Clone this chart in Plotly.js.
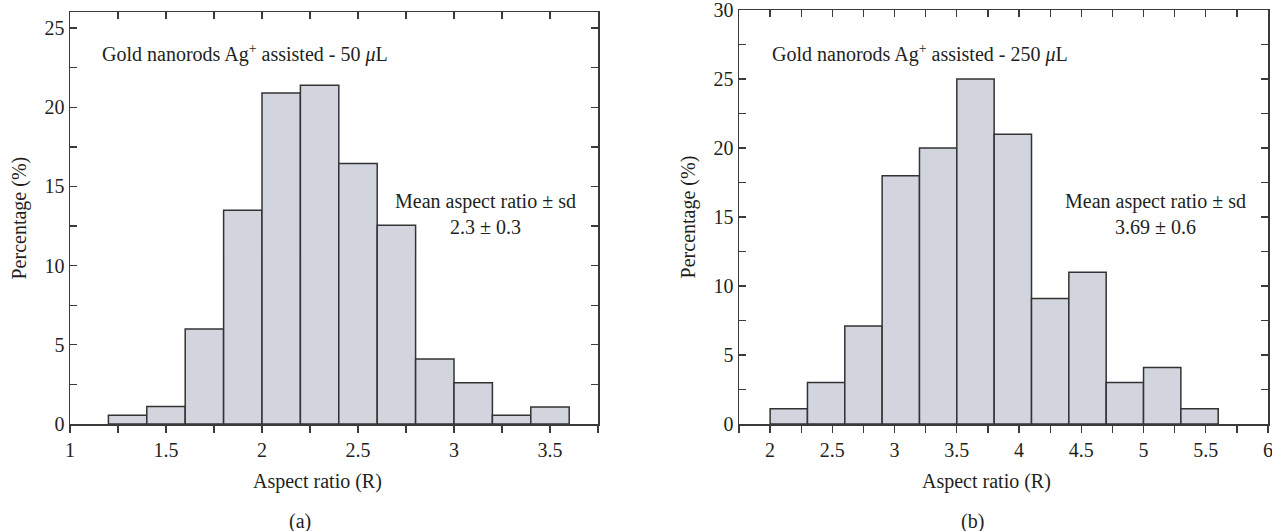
<!DOCTYPE html>
<html>
<head>
<meta charset="utf-8">
<script src="https://cdn.plot.ly/plotly-3.0.1.min.js"></script>
<style>html,body{margin:0;padding:0;background:#fff;} #chart{width:1272px;height:531px;}</style>
</head>
<body>
<div id="chart"></div>
<script>
// Panel (a): 50 uL
const binStartA = [1.2, 1.4, 1.6, 1.8, 2.0, 2.2, 2.4, 2.6, 2.8, 3.0, 3.2, 3.4];
const binWidthA = 0.2;
const percentA = [0.55, 1.1, 6.0, 13.5, 20.9, 21.4, 16.45, 12.55, 4.1, 2.6, 0.55, 1.07];
// Panel (b): 250 uL
const binStartB = [2.0, 2.3, 2.6, 2.9, 3.2, 3.5, 3.8, 4.1, 4.4, 4.7, 5.0, 5.3];
const binWidthB = 0.3;
const percentB = [1.1, 3.0, 7.1, 18.0, 20.0, 25.0, 21.0, 9.1, 11.0, 3.0, 4.1, 1.1];

const titleA = 'Gold nanorods Ag<sup>+</sup> assisted - 50 <i>μ</i>L';
const titleB = 'Gold nanorods Ag<sup>+</sup> assisted - 250 <i>μ</i>L';
const meanA = 'Mean aspect ratio ± sd<br>2.3 ± 0.3';
const meanB = 'Mean aspect ratio ± sd<br>3.69 ± 0.6';
const xTitle = 'Aspect ratio (R)';
const yTitle = 'Percentage (%)';

const W = 1272, H = 531;
const FONT = 'Liberation Serif, Times New Roman, serif';
const FS = 20;
const TXT = '#231f20';
const LINE = '#3a3a3a';
const fx = px => px / W;
const fy = py => 1 - py / H;

const barStyle = {color: '#d2d5dd', line: {color: '#333333', width: 1.5}};

const traces = [
  {type: 'bar', x: binStartA, y: percentA, width: binWidthA, offset: 0,
   marker: barStyle, xaxis: 'x', yaxis: 'y', showlegend: false, hoverinfo: 'x+y'},
  {type: 'bar', x: binStartB, y: percentB, width: binWidthB, offset: 0,
   marker: barStyle, xaxis: 'x2', yaxis: 'y2', showlegend: false, hoverinfo: 'x+y'},
  // empty traces so that the top frame axes are drawn
  {type: 'scatter', x: [], y: [], xaxis: 'x3', yaxis: 'y', showlegend: false, hoverinfo: 'skip'},
  {type: 'scatter', x: [], y: [], xaxis: 'x4', yaxis: 'y2', showlegend: false, hoverinfo: 'skip'}
];

const tickFont = {family: FONT, size: FS, color: TXT};

function xAxis(domain, range, anchor) {
  return {domain: domain, range: range, anchor: anchor, showgrid: false, zeroline: false,
    showline: true, linecolor: LINE, linewidth: 1.5, mirror: false,
    ticks: 'outside', ticklen: 7, tickwidth: 1.3, tickcolor: LINE, dtick: 0.5, tick0: 0,
    minor: {dtick: 0.25, tick0: 0, ticks: 'outside', ticklen: 7, tickwidth: 1.3, tickcolor: LINE, showgrid: false},
    tickfont: tickFont, ticklabeloverflow: 'allow', automargin: false, fixedrange: true};
}
function xTop(domain, range, anchor, over) {
  return {domain: domain, range: range, anchor: anchor, overlaying: over, side: 'top',
    showgrid: false, zeroline: false, showline: true, linecolor: LINE, linewidth: 1.5,
    ticks: 'inside', ticklen: 7, tickwidth: 1.3, tickcolor: LINE, dtick: 0.5, tick0: 0,
    minor: {dtick: 0.25, tick0: 0, ticks: 'inside', ticklen: 7, tickwidth: 1.3, tickcolor: LINE, showgrid: false},
    showticklabels: false, automargin: false, fixedrange: true};
}
function yAxis(domain, range, anchor) {
  return {domain: domain, range: range, anchor: anchor, showgrid: false, zeroline: false,
    showline: true, linecolor: LINE, linewidth: 1.5, mirror: 'ticks',
    ticks: 'inside', ticklen: 7, tickwidth: 1.3, tickcolor: LINE, dtick: 5, tick0: 0,
    minor: {dtick: 2.5, tick0: 0, ticks: 'inside', ticklen: 7, tickwidth: 1.3, tickcolor: LINE, showgrid: false},
    tickfont: tickFont, ticklabeloverflow: 'allow', automargin: false, fixedrange: true,
    title: {text: yTitle, font: {family: FONT, size: FS, color: TXT}, standoff: 12}};
}

const layout = {
  width: W, height: H,
  margin: {l: 0, r: 0, t: 0, b: 0},
  paper_bgcolor: '#ffffff', plot_bgcolor: '#ffffff',
  font: {family: FONT, color: TXT, size: FS},
  bargap: 0,
  xaxis: xAxis([fx(70), fx(598)], [1, 3.75], 'y'),
  yaxis: yAxis([fy(424), fy(12.3)], [0, 26], 'x'),
  xaxis2: xAxis([fx(739), fx(1268)], [1.75, 6], 'y2'),
  yaxis2: yAxis([fy(424), fy(10.1)], [0, 30], 'x2'),
  xaxis3: xTop([fx(70), fx(598)], [1, 3.75], 'y', 'x'),
  xaxis4: xTop([fx(739), fx(1268)], [1.75, 6], 'y2', 'x2'),
  annotations: [
    {text: titleA, xref: 'paper', yref: 'paper', x: fx(100), y: fy(53), xanchor: 'left', yanchor: 'middle', showarrow: false, font: {family: FONT, size: FS, color: TXT}},
    {text: titleB, xref: 'paper', yref: 'paper', x: fx(770), y: fy(53), xanchor: 'left', yanchor: 'middle', showarrow: false, font: {family: FONT, size: FS, color: TXT}},
    {text: meanA, xref: 'paper', yref: 'paper', x: fx(485), y: fy(214), xanchor: 'center', yanchor: 'middle', align: 'center', showarrow: false, font: {family: FONT, size: FS, color: TXT}},
    {text: meanB, xref: 'paper', yref: 'paper', x: fx(1155), y: fy(214), xanchor: 'center', yanchor: 'middle', align: 'center', showarrow: false, font: {family: FONT, size: FS, color: TXT}},
    {text: xTitle, xref: 'paper', yref: 'paper', x: fx(317), y: fy(481), xanchor: 'center', yanchor: 'middle', showarrow: false, font: {family: FONT, size: FS, color: TXT}},
    {text: xTitle, xref: 'paper', yref: 'paper', x: fx(986), y: fy(481), xanchor: 'center', yanchor: 'middle', showarrow: false, font: {family: FONT, size: FS, color: TXT}},
    {text: '(a)', xref: 'paper', yref: 'paper', x: fx(300), y: fy(521), xanchor: 'center', yanchor: 'middle', showarrow: false, font: {family: FONT, size: FS, color: TXT}},
    {text: '(b)', xref: 'paper', yref: 'paper', x: fx(972), y: fy(521), xanchor: 'center', yanchor: 'middle', showarrow: false, font: {family: FONT, size: FS, color: TXT}}
  ]
};

Plotly.newPlot('chart', traces, layout, {displayModeBar: false, staticPlot: true});
</script>
</body>
</html>
